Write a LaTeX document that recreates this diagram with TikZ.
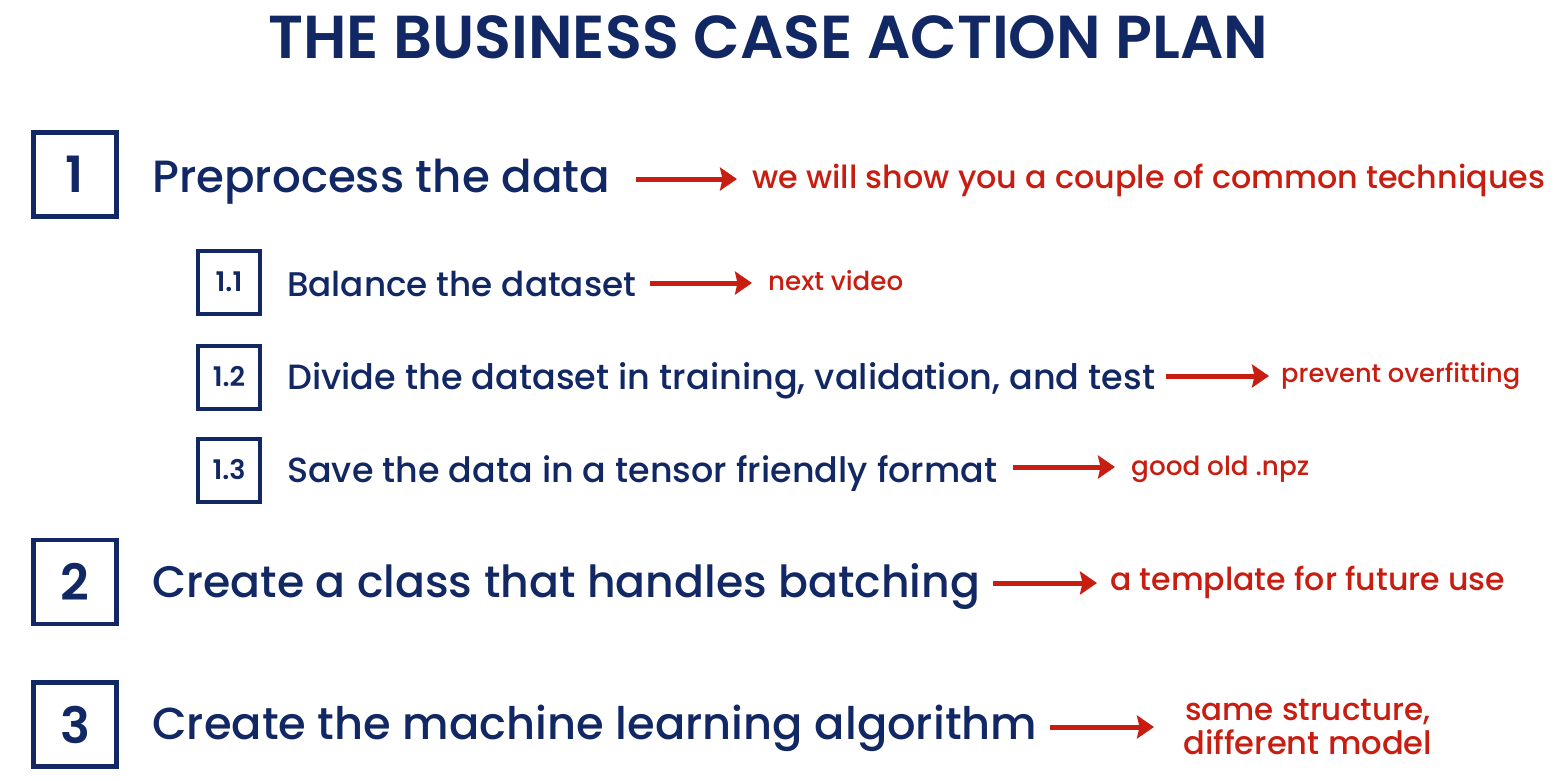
\documentclass[tikz,border=0pt]{standalone}
\usepackage{fontspec}
\setmainfont{Poppins}[UprightFont=* Medium, BoldFont=* SemiBold]
\usetikzlibrary{arrows.meta}
\definecolor{navy}{RGB}{18,40,100}
\definecolor{accent}{RGB}{200,30,18}
\newcommand{\fitw}[2]{\resizebox{#1pt}{!}{#2}}
\begin{document}
\begin{tikzpicture}[x=1pt,y=-1pt,
  bigbox/.style={draw=navy,line width=4.6pt,minimum width=83.5pt,minimum height=84pt,inner sep=0pt,text=navy,font=\bfseries\fontsize{50}{50}\selectfont},
  smallbox/.style={draw=navy,line width=4pt,minimum width=62pt,minimum height=63pt,inner sep=0pt,text=navy,font=\bfseries\fontsize{27}{27}\selectfont},
  main/.style={anchor=base west,inner sep=0pt,text=navy,font=\fontsize{40}{40}\selectfont},
  note/.style={anchor=base west,inner sep=0pt,text=accent,font=\fontsize{30}{30}\selectfont},
  arr/.style={draw=accent,line width=5pt,-{Stealth[length=17pt,width=23pt,inset=2.5pt]}}]
\useasboundingbox[fill=white] (0,0) rectangle (1567,780);

% title
\node[main,font=\bfseries\fontsize{40}{40}\selectfont] (title) at (268,58) {\fitw{1000}{THE BUSINESS CASE ACTION PLAN}};

% step 1
\node[bigbox] (b1) at (75,174.5) {1};
\node[main] (t1) at (152,192) {\fitw{458}{Preprocess the data}};
\node[note] (n1) at (752,188) {\fitw{793}{we will show you a couple of common techniques}};
\coordinate (s1) at (636,179); \coordinate (e1) at (737,179);
\draw[arr] (s1) -- (e1);

% step 1.1
\node[smallbox] (b11) at (229,282) {1.1};
\node[main] (t11) at (287,296) {\fitw{349}{Balance the dataset}};
\node[note] (n11) at (768,290) {\fitw{135}{next video}};
\coordinate (s11) at (650,283); \coordinate (e11) at (752,283);
\draw[arr] (s11) -- (e11);

% step 1.2
\node[smallbox] (b12) at (229,377) {1.2};
\node[main] (t12) at (287,389) {\fitw{868}{Divide the dataset in training, validation, and test}};
\node[note] (n12) at (1281,382) {\fitw{239}{prevent overfitting}};
\coordinate (s12) at (1166,376); \coordinate (e12) at (1269,376);
\draw[arr] (s12) -- (e12);

% step 1.3
\node[smallbox] (b13) at (229,470) {1.3};
\node[main] (t13) at (287,482) {\fitw{710}{Save the data in a tensor friendly format}};
\node[note] (n13) at (1131,475) {\fitw{178}{good old .npz}};
\coordinate (s13) at (1013,467); \coordinate (e13) at (1115,467);
\draw[arr] (s13) -- (e13);

% step 2
\node[bigbox] (b2) at (75,582) {2};
\node[main] (t2) at (152,597) {\fitw{828}{Create a class that handles batching}};
\node[note] (n2) at (1110,590) {\fitw{395}{a template for future use}};
\coordinate (s2) at (993,583); \coordinate (e2) at (1097,583);
\draw[arr] (s2) -- (e2);

% step 3
\node[bigbox] (b3) at (75,724.5) {3};
\node[main] (t3) at (152,739) {\fitw{885}{Create the machine learning algorithm}};
\node[note] (n3a) at (1185,720) {\fitw{245}{same structure,}};
\node[note] (n3b) at (1183,754) {\fitw{249}{different model}};
\coordinate (s3) at (1050,727); \coordinate (e3) at (1154,727);
\draw[arr] (s3) -- (e3);
\end{tikzpicture}
\end{document}
